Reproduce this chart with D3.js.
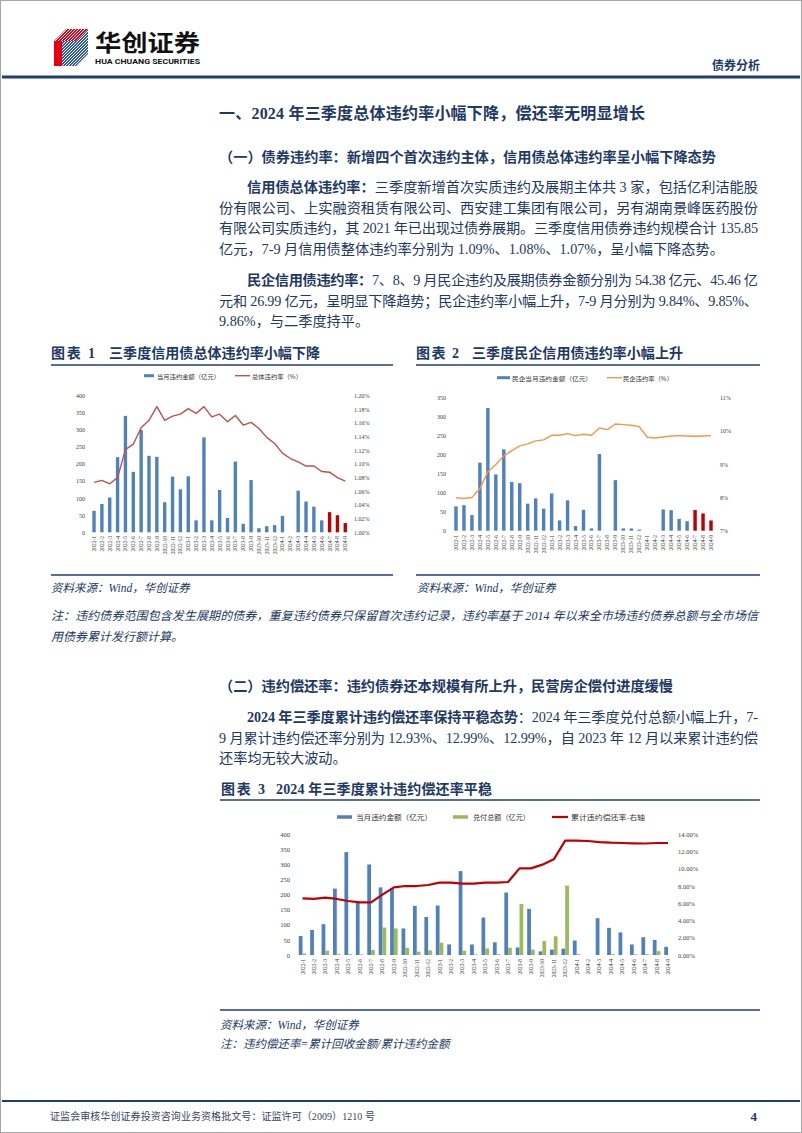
<!DOCTYPE html>
<html><head><meta charset="utf-8">
<script src="https://cdn.jsdelivr.net/npm/d3@7"></script>
<style>html,body{margin:0;padding:0;background:#fff;}svg{display:block;}</style>
</head><body>
<svg id="page" width="802" height="1133"></svg>
<script>
// ---------------- DATA ----------------
const months = ["2022-1","2022-2","2022-3","2022-4","2022-5","2022-6","2022-7","2022-8","2022-9","2022-10","2022-11","2022-12",
  "2023-1","2023-2","2023-3","2023-4","2023-5","2023-6","2023-7","2023-8","2023-9","2023-10","2023-11","2023-12",
  "2024-1","2024-2","2024-3","2024-4","2024-5","2024-6","2024-7","2024-8","2024-9"];
const highlightMonths = ["2024-7","2024-8","2024-9"];
// 当月违约金额（亿元）
const defaultAmt = [63,83,102,220,341,177,300,224,221,88,163,126,164,35,278,35,124,42,207,25,153,12,18,21,48,0,122,90,75,35,59,50,27];
// 总体违约率（%）
const totalRate = [1.073,1.076,1.071,1.080,1.121,1.129,1.153,1.164,1.184,1.164,1.170,1.173,1.181,1.174,1.184,1.169,1.173,1.162,1.171,1.157,1.161,1.152,1.139,1.130,1.116,1.108,1.103,1.097,1.097,1.089,1.088,1.080,1.075];
// 民企当月违约金额（亿元）
const privAmt = [64,67,41,179,323,148,214,128,125,71,85,58,98,27,80,12,55,6,202,0,133,6,6,3,0,0,56,54,31,25,54.38,45.46,26.99];
// 民企违约率（%）
const privRate = [7.99,7.97,8.00,8.27,8.77,8.99,9.25,9.41,9.55,9.61,9.70,9.73,9.87,9.87,9.92,9.86,9.90,9.87,10.09,10.04,10.21,10.19,10.17,10.13,9.81,9.79,9.82,9.85,9.86,9.85,9.84,9.85,9.86];
// 兑付总额（亿元）
const repayAmt = [5,0,14,3,3,2,17,91,88,24,11,15,41,0,14,2,22,3,24,169,18,46,62,230,3,0,0,3,0,2,3,13,0];
// 累计违约偿还率（%）
const recoveryRate = [6.57,6.50,6.65,6.50,6.26,6.11,6.11,7.00,7.85,8.00,8.00,8.12,8.39,8.39,8.28,8.28,8.39,8.39,8.47,10.05,10.05,10.48,11.10,13.26,13.26,13.22,13.10,13.03,12.99,12.95,12.93,12.99,12.99];
// tick values
const ticks1L = [0,50,100,150,200,250,300,350,400];
const ticks1R = [1.00,1.02,1.04,1.06,1.08,1.10,1.12,1.14,1.16,1.18,1.20];
const ticks2L = [0,50,100,150,200,250,300,350];
const ticks2R = [7,8,9,10,11];
const ticks3L = [0,50,100,150,200,250,300,350,400];
const ticks3R = [0,2,4,6,8,10,12,14];

// ---------------- STYLE ----------------
const SERIF = "'Liberation Serif','Noto Sans CJK SC',serif";
const SANS = "'Noto Sans CJK SC','Noto Sans',sans-serif";
const NAVY = "#1f3c78", TEXT = "#203864", TICK = "#404040";
const BLUE = "#4f81bd", RED_BAR = "#c00000", GREEN = "#9bbb59";

const svg = d3.select("#page");
svg.append("rect").attr("x",0.5).attr("y",0.5).attr("width",801).attr("height",1132)
  .attr("fill","#fff").attr("stroke","#a6a6a6");

function textLine(g, x, y, parts, o = {}) {
  const t = g.append("text").attr("x", x).attr("y", y)
    .attr("dominant-baseline", "central")
    .attr("font-family", o.family || SERIF)
    .attr("font-size", o.size || 14.2)
    .attr("fill", o.fill || TEXT)
    .attr("text-anchor", o.anchor || "start");
  if (o.italic) t.attr("font-style", "italic");
  if (o.bold) t.attr("font-weight", "bold");
  if (o.len) t.attr("textLength", o.len).attr("lengthAdjust", o.adjust || "spacing");
  parts.forEach(p => {
    const s = t.append("tspan").text(typeof p === "string" ? p : p.t);
    if (p.b) s.attr("font-weight", "bold");
  });
  return t;
}
function hline(x1, x2, y, w, c) {
  svg.append("line").attr("x1", x1).attr("x2", x2).attr("y1", y).attr("y2", y)
    .attr("stroke", c || NAVY).attr("stroke-width", w);
}

// ---------------- HEADER ----------------
(function logo() {
  const g = svg.append("g").attr("transform", "translate(54,29)");
  const defs = svg.append("defs");
  defs.append("clipPath").attr("id", "cTop").append("polygon").attr("points", "0,12 12,0 34,0 22,12");
  defs.append("clipPath").attr("id", "cFront").append("polygon").attr("points", "8,12 22,12 34,0 34,25 22,37 8,37");
  g.append("polygon").attr("points", "0,12 12,0 34,0 22,12").attr("fill", "#e60012");
  const st = g.append("g").attr("clip-path", "url(#cTop)");
  for (let i = -40; i < 40; i += 3) st.append("line").attr("x1", i).attr("y1", 14).attr("x2", i + 14).attr("y2", 0).attr("stroke", "#fff").attr("stroke-width", 1);
  g.append("rect").attr("x", 0).attr("y", 12).attr("width", 8).attr("height", 25).attr("fill", "#e60012");
  g.append("polygon").attr("points", "8,12 22,12 34,0 34,25 22,37 8,37").attr("fill", "#2a5caa");
  const sb = g.append("g").attr("clip-path", "url(#cFront)");
  for (let i = -40; i < 60; i += 3) sb.append("line").attr("x1", i).attr("y1", 40).attr("x2", i + 40).attr("y2", 0).attr("stroke", "#fff").attr("stroke-width", 1);
  textLine(svg, 95, 41, ["华创证券"], { family: SANS, size: 23, bold: true, fill: "#111", len: 105, adjust: "spacingAndGlyphs" });
  textLine(svg, 95, 60.5, ["HUA CHUANG SECURITIES"], { family: "'Roboto','Liberation Sans',sans-serif", size: 7.6, bold: true, fill: "#111", len: 105, adjust: "spacingAndGlyphs" });
  textLine(svg, 760, 64, ["债券分析"], { family: SANS, size: 12, bold: true, anchor: "end", fill: TEXT });
})();
hline(2, 800, 77, 3);

// ---------------- BODY TEXT ----------------
const L = 219, R = 758, IND = 247, W = R - L;
textLine(svg, L, 113, ["一、2024 年三季度总体违约率小幅下降，偿还率无明显增长"], { size: 16, bold: true, len: 426 });
textLine(svg, L, 157, ["（一）债券违约率：新增四个首次违约主体，信用债总体违约率呈小幅下降态势"], { size: 14.2, bold: true, len: 497 });

textLine(svg, IND, 187, [{ t: "信用债总体违约率：", b: 1 }, "三季度新增首次实质违约及展期主体共 3 家，包括亿利洁能股"], { len: R - IND });
textLine(svg, L, 207.5, ["份有限公司、上实融资租赁有限公司、西安建工集团有限公司，另有湖南景峰医药股份"], { len: W });
textLine(svg, L, 228, ["有限公司实质违约，其 2021 年已出现过债券展期。三季度信用债券违约规模合计 135.85"], { len: W });
textLine(svg, L, 248.5, ["亿元，7-9 月信用债整体违约率分别为 1.09%、1.08%、1.07%，呈小幅下降态势。"], {});

textLine(svg, IND, 280, [{ t: "民企信用债违约率：", b: 1 }, "7、8、9 月民企违约及展期债券金额分别为 54.38 亿元、45.46 亿"], { len: R - IND });
textLine(svg, L, 300.5, ["元和 26.99 亿元，呈明显下降趋势；民企违约率小幅上升，7-9 月分别为 9.84%、9.85%、"], { len: W });
textLine(svg, L, 321, ["9.86%，与二季度持平。"], {});

// chart titles row
textLine(svg, 51, 353, ["图表 1"], { size: 14, bold: true, len: 44 });
textLine(svg, 109, 353, ["三季度信用债总体违约率小幅下降"], { size: 14, bold: true, len: 211 });
textLine(svg, 416, 353, ["图表 2"], { size: 14, bold: true, len: 43 });
textLine(svg, 472, 353, ["三季度民企信用债违约率小幅上升"], { size: 14, bold: true, len: 211 });
hline(51, 393, 365, 1.6);
hline(416, 760, 365, 1.6);
hline(51, 393, 575, 1.6);
hline(416, 760, 575, 1.6);
textLine(svg, 51, 588, ["资料来源：Wind，华创证券"], { size: 11.5, italic: true });
textLine(svg, 417, 588, ["资料来源：Wind，华创证券"], { size: 11.5, italic: true });
textLine(svg, 51, 616, ["注：违约债券范围包含发生展期的债券，重复违约债券只保留首次违约记录，违约率基于 2014 年以来全市场违约债券总额与全市场信"], { size: 12, italic: true, len: 707 });
textLine(svg, 51, 637, ["用债券累计发行额计算。"], { size: 12, italic: true });

textLine(svg, L, 686, ["（二）违约偿还率：违约债券还本规模有所上升，民营房企偿付进度缓慢"], { size: 14.2, bold: true, len: 454 });
textLine(svg, IND, 717, [{ t: "2024 年三季度累计违约偿还率保持平稳态势", b: 1 }, "：2024 年三季度兑付总额小幅上升，7-"], { len: R - IND });
textLine(svg, L, 737.5, ["9 月累计违约偿还率分别为 12.93%、12.99%、12.99%，自 2023 年 12 月以来累计违约偿"], { len: W });
textLine(svg, L, 758, ["还率均无较大波动。"], {});

textLine(svg, 221, 789, ["图表 3"], { size: 14, bold: true, len: 44 });
textLine(svg, 276, 789, ["2024 年三季度累计违约偿还率平稳"], { size: 14, bold: true, len: 216 });
hline(220, 760, 800, 1.6);
hline(220, 760, 1010, 1.6);
textLine(svg, 220, 1025, ["资料来源：Wind，华创证券"], { size: 11.5, italic: true });
textLine(svg, 220, 1044, ["注：违约偿还率=累计回收金额/累计违约金额"], { size: 11.5, italic: true });

// footer
hline(2, 800, 1101, 2);
textLine(svg, 50, 1116, ["证监会审核华创证券投资咨询业务资格批文号：证监许可（2009）1210 号"], { size: 10, fill: "#3a4565", len: 325 });
textLine(svg, 757, 1116, ["4"], { size: 13, bold: true, anchor: "end" });

// ---------------- CHART HELPERS ----------------
function axisLabels(g, scale, ticks, x, anchor, fmt, size) {
  const ax = (anchor === "end" ? d3.axisLeft(scale) : d3.axisRight(scale))
    .tickValues(ticks).tickSize(0).tickPadding(0).tickFormat(fmt);
  const a = g.append("g").attr("transform", `translate(${x},0)`).call(ax);
  a.select(".domain").remove();
  a.selectAll("text").attr("font-family", SERIF).attr("font-size", size).attr("fill", TICK)
    .attr("text-anchor", anchor).attr("x", 0).attr("dy", "0.32em");
}
function monthLabels(g, x, y0, size) {
  g.append("g").selectAll("text").data(months).join("text")
    .attr("transform", m => `translate(${x(m) + x.bandwidth() / 2},${y0}) rotate(-90)`)
    .attr("text-anchor", "end").attr("dominant-baseline", "central")
    .attr("font-family", SERIF).attr("font-size", size).attr("fill", TICK)
    .text(m => m);
}
function legendRect(g, x, y, w, h, c, label, tx, len, size) {
  g.append("rect").attr("x", x).attr("y", y - h / 2).attr("width", w).attr("height", h).attr("fill", c);
  textLine(g, tx, y, [label], { family: SANS, size: size, fill: "#333", len: len, adjust: "spacingAndGlyphs" });
}
function legendLine(g, x, y, w, c, sw, label, tx, len, size) {
  g.append("line").attr("x1", x).attr("x2", x + w).attr("y1", y).attr("y2", y).attr("stroke", c).attr("stroke-width", sw);
  textLine(g, tx, y, [label], { family: SANS, size: size, fill: "#333", len: len, adjust: "spacingAndGlyphs" });
}

// ---------------- CHART 1 ----------------
(function () {
  const g = svg.append("g");
  const x = d3.scaleBand().domain(months).range([90.1, 349.2]).paddingInner(0.57).paddingOuter(0.285);
  const yL = d3.scaleLinear().domain([0, 400]).range([532.3, 395.7]);
  const yR = d3.scaleLinear().domain([1.00, 1.20]).range([532.3, 395.7]);
  g.selectAll("rect.bar").data(months).join("rect").attr("class", "bar")
    .attr("x", m => x(m)).attr("width", x.bandwidth())
    .attr("y", (m, i) => yL(defaultAmt[i])).attr("height", (m, i) => yL(0) - yL(defaultAmt[i]))
    .attr("fill", m => highlightMonths.includes(m) ? RED_BAR : BLUE);
  const line = d3.line().x((d, i) => x(months[i]) + x.bandwidth() / 2).y(d => yR(d));
  g.append("path").datum(totalRate).attr("d", line).attr("fill", "none").attr("stroke", "#c0504d").attr("stroke-width", 1.4).attr("stroke-linejoin", "round");
  axisLabels(g, yL, ticks1L, 85, "end", d => d, 6);
  axisLabels(g, yR, ticks1R, 354, "start", d => d.toFixed(2) + "%", 6);
  monthLabels(g, x, 536, 5.5);
  legendRect(g, 144, 375.7, 10, 3, BLUE, "当月违约金额（亿元）", 157, 63, 6);
  legendLine(g, 235, 375.7, 15, "#c0504d", 1.4, "总体违约率（%）", 252, 50, 6);
})();

// ---------------- CHART 2 ----------------
(function () {
  const g = svg.append("g");
  const x = d3.scaleBand().domain(months).range([452.0, 715.0]).paddingInner(0.57).paddingOuter(0.285);
  const yL = d3.scaleLinear().domain([0, 350]).range([530.7, 397.7]);
  const yR = d3.scaleLinear().domain([7, 11]).range([530.7, 397.7]);
  g.selectAll("rect.bar").data(months).join("rect").attr("class", "bar")
    .attr("x", m => x(m)).attr("width", x.bandwidth())
    .attr("y", (m, i) => yL(privAmt[i])).attr("height", (m, i) => yL(0) - yL(privAmt[i]))
    .attr("fill", m => highlightMonths.includes(m) ? RED_BAR : BLUE);
  const line = d3.line().x((d, i) => x(months[i]) + x.bandwidth() / 2).y(d => yR(d));
  g.append("path").datum(privRate).attr("d", line).attr("fill", "none").attr("stroke", "#f79646").attr("stroke-width", 1.4).attr("stroke-linejoin", "round");
  axisLabels(g, yL, ticks2L, 446, "end", d => d, 6);
  axisLabels(g, yR, ticks2R, 720, "start", d => d + "%", 6);
  monthLabels(g, x, 535, 5.5);
  legendRect(g, 497, 377.7, 13, 3, BLUE, "民企当月违约金额（亿元）", 512, 80, 6);
  legendLine(g, 607, 377.7, 15, "#f79646", 1.4, "民企违约率（%）", 623, 50, 6);
})();

// ---------------- CHART 3 ----------------
(function () {
  const g = svg.append("g");
  const x = d3.scaleBand().domain(months).range([296.8, 673.7]).paddingInner(0.34).paddingOuter(0.17);
  const xs = d3.scaleBand().domain(["amt", "repay"]).range([0, x.bandwidth()]);
  const yL = d3.scaleLinear().domain([0, 400]).range([955, 834.3]);
  const yR = d3.scaleLinear().domain([0, 14]).range([955, 834.3]);
  g.selectAll("rect.b1").data(months).join("rect").attr("class", "b1")
    .attr("x", m => x(m) + xs("amt")).attr("width", xs.bandwidth())
    .attr("y", (m, i) => yL(defaultAmt[i])).attr("height", (m, i) => yL(0) - yL(defaultAmt[i]))
    .attr("fill", BLUE);
  g.selectAll("rect.b2").data(months).join("rect").attr("class", "b2")
    .attr("x", m => x(m) + xs("repay")).attr("width", xs.bandwidth())
    .attr("y", (m, i) => yL(repayAmt[i])).attr("height", (m, i) => yL(0) - yL(repayAmt[i]))
    .attr("fill", GREEN);
  const line = d3.line().x((d, i) => x(months[i]) + x.bandwidth() / 2).y(d => yR(d));
  g.append("path").datum(recoveryRate).attr("d", line).attr("fill", "none").attr("stroke", "#c00000").attr("stroke-width", 2.2).attr("stroke-linejoin", "round");
  axisLabels(g, yL, ticks3L, 290, "end", d => d, 6.5);
  axisLabels(g, yR, ticks3R, 678, "start", d => d.toFixed(2) + "%", 6.5);
  monthLabels(g, x, 959, 5.5);
  legendRect(g, 337, 817, 15, 3.5, BLUE, "当月违约金额（亿元）", 356, 76, 7);
  legendRect(g, 453, 817, 15, 3.5, GREEN, "兑付总额（亿元）", 473, 57, 7);
  legendLine(g, 552, 817, 16, "#c00000", 2.2, "累计违约偿还率-右轴", 571, 74, 7);
})();
</script>
</body></html>
